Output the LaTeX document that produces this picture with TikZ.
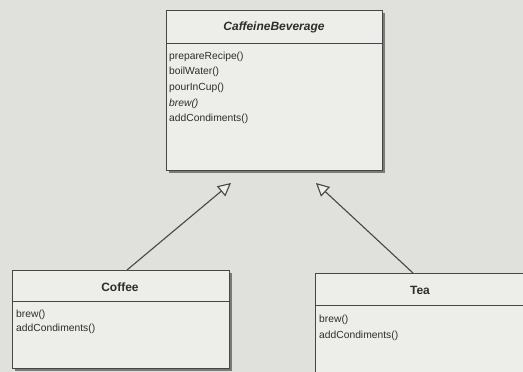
\documentclass[tikz,border=0pt]{standalone}
\usepackage{fontspec}
\setmainfont{Liberation Sans}
\usetikzlibrary{arrows.meta,shadows}
\definecolor{bg}{RGB}{224,224,220}
\definecolor{boxfill}{RGB}{237,237,234}
\definecolor{edge}{RGB}{70,70,70}
\definecolor{ink}{RGB}{45,45,45}
\tikzset{
  classbox/.style={draw=edge, line width=0.9pt, fill=boxfill, anchor=north west, inner sep=0pt,
    drop shadow={shadow xshift=2.5pt, shadow yshift=-2.5pt, fill=black, opacity=0.45}},
  title/.style={font=\fontsize{12}{14}\selectfont\bfseries, text=ink},
  meth/.style={font=\fontsize{10.3}{12}\selectfont, text=ink, anchor=west, inner sep=0pt},
  inherit/.style={draw=edge, line width=1.1pt, -{Triangle[open, length=13pt, width=13pt, fill=boxfill]}}
}
\begin{document}
\begin{tikzpicture}[x=1pt,y=-1pt]
\useasboundingbox (0,0) rectangle (523,372);
\fill[bg] (0,0) rectangle (523,372);
\clip (0,0) rectangle (523,372);
% top class
\node[classbox, minimum width=216pt, minimum height=160pt] (cb) at (166,10) {};
\draw[edge, line width=0.8pt] (166,43) -- (382,43);
\node[title] (cbt) at (274,27) {\itshape CaffeineBeverage};
\node[meth] (m1) at (169,57) {prepareRecipe()};
\node[meth] (m2) at (169,72) {boilWater()};
\node[meth] (m3) at (169,88) {pourInCup()};
\node[meth] (m4) at (169,104) {\itshape brew()};
\node[meth] (m5) at (169,119) {addCondiments()};
% coffee
\node[classbox, minimum width=217pt, minimum height=98pt] (cof) at (12,270) {};
\draw[edge, line width=0.8pt] (12,301) -- (229,301);
\node[title] (coft) at (120,287) {Coffee};
\node[meth] (c1) at (16,315) {brew()};
\node[meth] (c2) at (16,329) {addCondiments()};
% tea
\node[classbox, minimum width=220pt, minimum height=110pt] (tea) at (315,273) {};
\draw[edge, line width=0.8pt] (315,305) -- (535,305);
\node[title] (teat) at (420,290) {Tea};
\node[meth] (t1) at (319,320) {brew()};
\node[meth] (t2) at (319,336) {addCondiments()};
% inheritance arrows
\coordinate (cofs) at (127,270);
\coordinate (cofe) at (231,183);
\coordinate (teas) at (413,273);
\coordinate (teae) at (316,183);
\draw[inherit] (cofs) -- (cofe);
\draw[inherit] (teas) -- (teae);
\end{tikzpicture}
\end{document}
